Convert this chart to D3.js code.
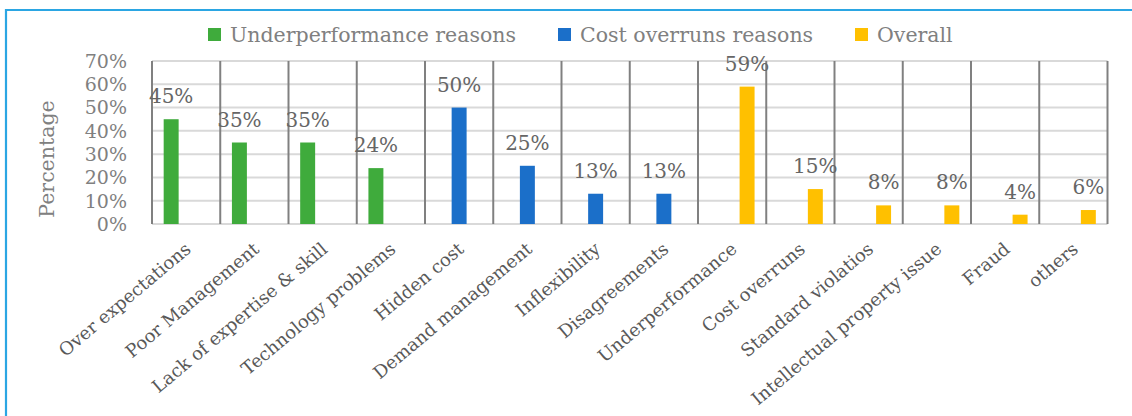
<!DOCTYPE html>
<html><head><meta charset="utf-8">
<script src="https://cdn.jsdelivr.net/npm/d3@7"></script>
<style>body{margin:0;background:#fff}svg{display:block}text{font-family:"DejaVu Serif",serif}</style>
</head><body>
<svg id="c" width="1132" height="416"></svg>
<script>
const categories = ["Over expectations","Poor Management","Lack of expertise & skill","Technology problems","Hidden cost","Demand management","Inflexibility","Disagreements","Underperformance","Cost overruns","Standard violatios","Intellectual property issue","Fraud","others"];
const seriesNames = ["Underperformance reasons","Cost overruns reasons","Overall"];
const underperformance = [45,35,35,24,null,null,null,null,null,null,null,null,null,null];
const costOverruns = [null,null,null,null,50,25,13,13,null,null,null,null,null,null];
const overall = [null,null,null,null,null,null,null,null,59,15,8,8,4,6];
const yTicks = [0,10,20,30,40,50,60,70];
const colors = ["#3fab3c","#1b6fc9","#ffc000"];

const svg = d3.select("#c");
const L=152, R=1107.5, T=61, B=224;
const x0 = d3.scaleBand().domain(categories).range([L,R]).padding(0);
const x1 = d3.scaleBand().domain(seriesNames).range([0,x0.bandwidth()]).paddingInner(0).paddingOuter(0.78);
const y = d3.scaleLinear().domain([0,70]).range([B,T]);

// border
svg.append("path").attr("d","M6,416 V10 H1132").attr("fill","none").attr("stroke","#2ba6e3").attr("stroke-width",2.2);

// horizontal gridlines
svg.append("g").selectAll("line").data(yTicks).join("line")
  .attr("x1",L).attr("x2",R).attr("y1",d=>y(d)).attr("y2",d=>y(d))
  .attr("stroke","#d9d9d9").attr("stroke-width",2);

// vertical lines at category boundaries
const bounds = categories.map(c=>x0(c)).concat([R]);
svg.append("g").selectAll("line").data(bounds).join("line")
  .attr("x1",d=>d).attr("x2",d=>d).attr("y1",T).attr("y2",B)
  .attr("stroke","#808080").attr("stroke-width",2);

// y tick labels
svg.append("g").selectAll("text").data(yTicks).join("text")
  .attr("x",127).attr("y",d=>y(d)).attr("dy","0.36em").attr("text-anchor","end")
  .attr("font-size",19).attr("fill","#808080").text(d=>d+"%");

// axis title
svg.append("text").attr("transform","translate(54,159) rotate(-90)").attr("text-anchor","middle")
  .attr("font-size",20.5).attr("fill","#808080").text("Percentage");

// bars
const allSeries = [underperformance,costOverruns,overall];
allSeries.forEach((vals,si)=>{
  const data = categories.map((c,i)=>({c,v:vals[i]})).filter(d=>d.v!=null);
  const g = svg.append("g");
  g.selectAll("rect").data(data).join("rect")
    .attr("x",d=>x0(d.c)+x1(seriesNames[si])).attr("width",x1.bandwidth())
    .attr("y",d=>y(d.v)).attr("height",d=>B-y(d.v)).attr("fill",colors[si]);
  g.selectAll("text").data(data).join("text")
    .attr("x",d=>x0(d.c)+x1(seriesNames[si])+x1.bandwidth()/2).attr("y",d=>y(d.v)-16)
    .attr("text-anchor","middle").attr("font-size",20).attr("fill","#666")
    .text(d=>d.v+"%");
});

// x labels
svg.append("g").selectAll("text").data(categories).join("text")
  .attr("transform",d=>`translate(${x0(d)+x0.bandwidth()/2+6},251) rotate(-40)`)
  .attr("text-anchor","end").attr("font-size",18).attr("fill","#595959").text(d=>d);

// legend
const lx=[208,558,855];
const lg = svg.append("g").selectAll("g").data(seriesNames).join("g")
  .attr("transform",(d,i)=>`translate(${lx[i]},28)`);
lg.append("rect").attr("width",13).attr("height",13).attr("fill",(d,i)=>colors[i]);
lg.append("text").attr("x",22).attr("y",13.5).attr("font-size",20.5).attr("fill","#808080").text(d=>d);
</script>
</body></html>
